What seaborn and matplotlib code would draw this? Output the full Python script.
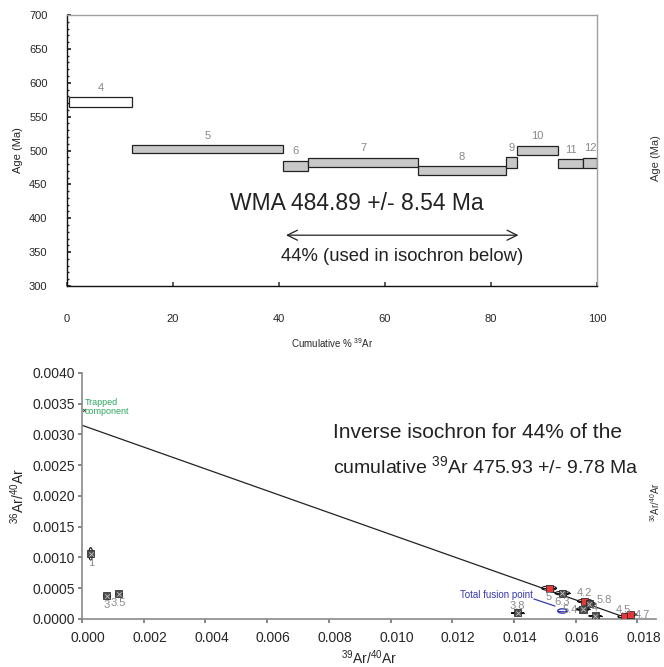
import matplotlib
matplotlib.use("Agg")
import numpy as np
import pandas as pd
import seaborn as sns
import matplotlib.pyplot as plt
from matplotlib.patches import Ellipse
from matplotlib.ticker import MultipleLocator, FormatStrFormatter
from matplotlib.transforms import ScaledTranslation

sns.set_theme(style="white")
plt.rcParams['font.family'] = ['Liberation Sans', 'DejaVu Sans']
plt.rcParams['mathtext.fontset'] = 'custom'
plt.rcParams['mathtext.rm'] = 'Liberation Sans'
plt.rcParams['mathtext.it'] = 'Liberation Sans:italic'
plt.rcParams['mathtext.bf'] = 'Liberation Sans:bold'

# age spectrum steps
step_ids = ['4', '5', '6', '7', '8', '9', '10', '11', '12']
cum_start = [0.4, 12.3, 40.8, 45.5, 66.2, 82.8, 84.9, 92.6, 97.4]
cum_end = [12.3, 40.8, 45.5, 66.2, 82.8, 84.9, 92.6, 97.4, 100.0]
age_low = [564, 496, 470, 476, 464, 474, 493, 474, 474]
age_high = [579, 508, 485, 489, 477, 490, 507, 487, 489]
step_fill = ['white', 'grey', 'grey', 'grey', 'grey', 'grey', 'grey', 'grey', 'grey']

wma_text = 'WMA 484.89 +/- 8.54 Ma'
plateau_range = [40.8, 85.7]
plateau_text = '44% (used in isochron below)'

# inverse isochron points
iso_labels = ['1', '3', '3.5', '3.8', '5', '6.3', '4.2', '5.8', '5.4', '4', '4.5', '4.7']
iso_x = [0.00028, 0.00080, 0.00119, 0.01412, 0.01514, 0.01557, 0.01630, 0.01644,
         0.01624, 0.01663, 0.01757, 0.01778]
iso_y = [0.00106, 0.00038, 0.00041, 0.00010, 0.00050, 0.00042, 0.00029, 0.00025,
         0.00016, 0.00005, 0.00004, 0.00007]
iso_kind = ['other', 'other', 'other', 'other', 'used', 'other', 'used', 'other',
            'other', 'other', 'used', 'used']
err_w = [0.00012, 0.00020, 0.00020, 0.00042, 0.00048, 0.00048, 0.00048, 0.00040,
         0.00042, 0.00042, 0.00040, 0.00040]
err_h = [0.00020, 0.00004, 0.00004, 0.00001, 0.00007, 0.00006, 0.00006, 0.00005,
         0.00005, 0.00001, 0.00004, 0.00004]

iso_intercept = 0.00315
iso_x_intercept = 0.01775
trapped = (0.00006, 0.00340)
total_fusion = (0.01557, 0.00013)
iso_text = ['Inverse isochron for 44% of the',
            r'cumulative $\mathregular{^{39}}$Ar 475.93 +/- 9.78 Ma']

# label offsets in pixels (layout only)
label_offsets = {'1': (1, -9, 'center'), '3': (0, -9, 'center'), '3.5': (0, -9, 'center'),
                 '3.8': (0, 7, 'center'), '5': (0, -9, 'center'), '6.3': (0, -9, 'center'),
                 '4.2': (0, 8, 'center'), '5.8': (7, 4, 'left'), '5.4': (-5, -1, 'right'),
                 '4': (0, 8, 'center'), '4.5': (-1, 7, 'center'), '4.7': (4, 0, 'left')}

fig = plt.figure(figsize=(6.64, 6.67), dpi=100)

# ---- top: age spectrum ----
ax1 = fig.add_axes([0.1009, 0.5712, 0.7982, 0.4063])
steps = pd.DataFrame({'id': step_ids, 'start': cum_start, 'end': cum_end,
                      'low': age_low, 'high': age_high, 'fill': step_fill})
fill_map = {'white': 'white', 'grey': '#c8c8c8'}
ax1.bar(steps['start'], steps['high'] - steps['low'], width=steps['end'] - steps['start'],
        bottom=steps['low'], align='edge', color=steps['fill'].map(fill_map),
        edgecolor='#222222', linewidth=0.9)
for _, r in steps.iterrows():
    ax1.text((r['start'] + r['end']) / 2, r['high'] + 14, r['id'], ha='center', va='center',
             fontsize=8, color='#888888')

ax1.text(54.7, 422, wma_text, ha='center', va='center', fontsize=16.5, color='#222222')
ax1.annotate('', xy=(plateau_range[1], 375), xytext=(plateau_range[0], 375),
             arrowprops=dict(arrowstyle='<->', color='#222222', lw=0.9,
                             mutation_scale=18))
ax1.text(63.2, 343, plateau_text, ha='center', va='center', fontsize=13.3, color='#222222')

ax1.set_xlim(0, 100)
ax1.set_ylim(300, 700)
ax1.xaxis.set_major_locator(MultipleLocator(20))
ax1.yaxis.set_major_locator(MultipleLocator(50))
ax1.yaxis.set_minor_locator(MultipleLocator(10))
ax1.tick_params(axis='x', direction='in', length=3, pad=20, labelsize=8, bottom=True,
                color='#444444')
ax1.tick_params(axis='y', which='major', direction='in', length=3, pad=14, labelsize=8,
                left=True)
ax1.tick_params(axis='y', which='minor', direction='in', length=1.5, left=True)
for side in ['left', 'bottom']:
    ax1.spines[side].set_color('#111111')
    ax1.spines[side].set_linewidth(1.0)
for side in ['top', 'right']:
    ax1.spines[side].set_color('#a0a0a0')
    ax1.spines[side].set_linewidth(1.0)
ax1.set_xlabel(r'Cumulative % $\mathregular{^{39}}$Ar', fontsize=7, labelpad=9)
ax1.set_ylabel('Age (Ma)', fontsize=8, labelpad=4)

# ---- bottom: inverse isochron ----
ax2 = fig.add_axes([0.1235, 0.072, 0.8642, 0.3688])
pts = pd.DataFrame({'label': iso_labels, 'x': iso_x, 'y': iso_y, 'kind': iso_kind,
                    'w': err_w, 'h': err_h})

line_x = np.array([0.0, 0.018])
line_y = iso_intercept - iso_intercept / iso_x_intercept * line_x
sns.lineplot(x=line_x, y=line_y, ax=ax2, color='#222222', linewidth=0.9, zorder=2)

for _, r in pts.iterrows():
    ax2.add_patch(Ellipse((r['x'], r['y']), r['w'], r['h'], facecolor='white',
                          edgecolor='#111111', linewidth=0.8, zorder=3))
    ax2.plot([r['x'] - r['w'] / 2, r['x'] + r['w'] / 2], [r['y'], r['y']],
             color='#111111', linewidth=0.8, zorder=3)

sns.scatterplot(data=pts, x='x', y='y', hue='kind', palette={'used': '#e5383b', 'other': '#505050'},
                marker='s', s=26, edgecolor='#222222', linewidth=0.5, legend=False, ax=ax2,
                zorder=4)
sns.scatterplot(data=pts[pts['kind'] == 'other'], x='x', y='y', marker='x', s=10,
                color='#c0c0c0', linewidth=0.6, legend=False, ax=ax2, zorder=5)

for _, r in pts.iterrows():
    dx, dy, ha = label_offsets[r['label']]
    ax2.annotate(r['label'], (r['x'], r['y']), xytext=(dx, dy), textcoords='offset pixels',
                 ha=ha, va='center', fontsize=8, color='#8a8a8a', zorder=6)

# trapped component
ax2.scatter([trapped[0]], [trapped[1]], marker='x', s=5, color='#333333', linewidth=0.6)
ax2.text(0.00008, 0.00344, 'Trapped\ncomponent', fontsize=6.5, color='#2ea860',
         ha='left', va='center', linespacing=1.0)

# total fusion point
ax2.add_patch(Ellipse(total_fusion, 0.00030, 0.00007, facecolor='white',
                      edgecolor='#3838b0', linewidth=1.0, zorder=4))
ax2.plot([total_fusion[0] - 0.00015, total_fusion[0] + 0.00015],
         [total_fusion[1], total_fusion[1]], color='#3838b0', linewidth=0.8, zorder=4)
ax2.plot([0.01465, 0.01533], [0.000325, 0.00021], color='#3838b0', linewidth=0.9)
ax2.text(0.01462, 0.00039, 'Total fusion point', fontsize=7, color='#3838b0',
         ha='right', va='center')

ax2.text(0.00814, 0.00304, iso_text[0], fontsize=15, color='#222222', ha='left', va='center')
ax2.text(0.00814, 0.00249, iso_text[1], fontsize=14, color='#222222', ha='left', va='center')

ax2.set_xlim(0, 0.0186)
ax2.set_ylim(0, 0.0040)
ax2.xaxis.set_major_locator(MultipleLocator(0.002))
ax2.yaxis.set_major_locator(MultipleLocator(0.0005))
ax2.xaxis.set_major_formatter(FormatStrFormatter('%.3f'))
ax2.yaxis.set_major_formatter(FormatStrFormatter('%.4f'))
ax2.tick_params(axis='both', direction='out', length=3, labelsize=10, color='#777777',
                left=True, bottom=True)
ax2.tick_params(axis='x', pad=6)
ax2.tick_params(axis='y', pad=2)
for side in ['top', 'right']:
    ax2.spines[side].set_visible(False)
for side in ['left', 'bottom']:
    ax2.spines[side].set_color('#8a8a8a')
    ax2.spines[side].set_linewidth(1.2)
ax2.set_xlabel(r'$\mathregular{^{39}}$Ar/$\mathregular{^{40}}$Ar', fontsize=10, labelpad=2)
ax2.set_ylabel(r'$\mathregular{^{36}}$Ar/$\mathregular{^{40}}$Ar', fontsize=10, labelpad=4)

# x tick labels of the isochron sit a little right of their ticks
shift = ScaledTranslation(6 / 100, 0, fig.dpi_scale_trans)
for lab in ax2.get_xticklabels():
    lab.set_transform(lab.get_transform() + shift)

# labels of the neighbouring panels at the right edge
fig.text(0.988, 0.763, 'Age (Ma)', rotation=90, fontsize=8, ha='center', va='center',
         color='#333333')
fig.text(0.986, 0.247, r'$\mathregular{^{36}}$Ar/$\mathregular{^{40}}$Ar', rotation=90,
         fontsize=7, ha='center', va='center', color='#333333')

fig.savefig('out.png', dpi=100)
